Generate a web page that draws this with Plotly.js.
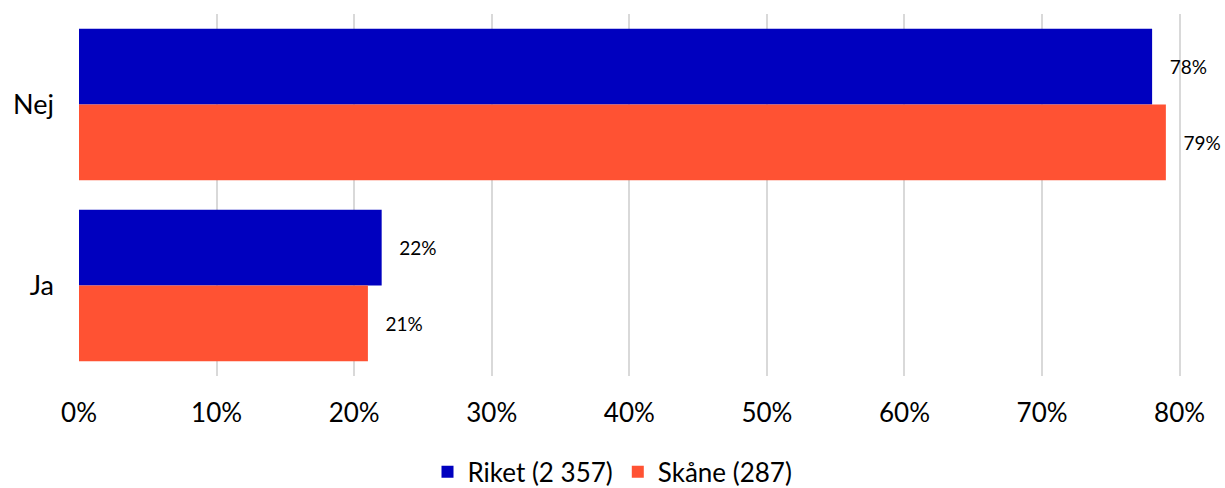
<!DOCTYPE html>
<html>
<head>
<meta charset="utf-8">
<script src="https://cdn.plot.ly/plotly-3.0.1.min.js"></script>
<style>html,body{margin:0;padding:0;background:#fff;}#chart{width:1225px;height:488px;}</style>
</head>
<body>
<div id="chart"></div>
<script>
const categories = ["Nej", "Ja"];
const seriesNames = ["Riket (2 357)", "Skåne (287)"];
const riket = [78, 22];
const skane = [79, 21];
const xTickVals = [0, 10, 20, 30, 40, 50, 60, 70, 80];
const xTickText = ["0%", "10%", "20%", "30%", "40%", "50%", "60%", "70%", "80%"];

const FONT = "Lato, 'Open Sans', sans-serif";
function mk(name, vals, color) {
  return {
    type: "bar", orientation: "h", name: name,
    x: vals, y: categories,
    marker: {color: color, line: {width: 0}},
    text: vals.map(v => v + "%"),
    texttemplate: "   %{text}",
    textposition: "outside",
    cliponaxis: false,
    textfont: {family: FONT, size: 19, color: "#000"},
    hoverinfo: "skip"
  };
}
const data = [mk(seriesNames[0], riket, "#0000BF"), mk(seriesNames[1], skane, "#FF5233")];
const layout = {
  width: 1225, height: 488,
  margin: {l: 79, r: 44, t: 14, b: 112, autoexpand: false},
  paper_bgcolor: "#fff", plot_bgcolor: "#fff",
  barmode: "group", bargap: 0.164, bargroupgap: 0,
  font: {family: FONT, color: "#000"},
  xaxis: {
    range: [0, 80.1], tickvals: xTickVals, ticktext: xTickText,
    showgrid: true, gridcolor: "#d9d9d9", gridwidth: 2,
    zeroline: false, showline: false, ticks: "",
    tickfont: {family: FONT, size: 26, color: "#000"},
    ticklabelstandoff: 19, fixedrange: true, automargin: false
  },
  yaxis: {
    autorange: "reversed", categoryorder: "array", categoryarray: categories,
    showgrid: false, zeroline: false, showline: false, ticks: "",
    tickfont: {family: FONT, size: 27, color: "#000"},
    ticklabelstandoff: 24, fixedrange: true, automargin: false
  },
  showlegend: true,
  legend: {
    orientation: "h", x: 0.5, xref: "container", xanchor: "center",
    y: 0.033, yref: "container", yanchor: "middle",
    font: {family: FONT, size: 26, color: "#000"},
    itemwidth: 30, tracegroupgap: 0, traceorder: "normal"
  }
};
Plotly.newPlot("chart", data, layout, {displayModeBar: false, staticPlot: true});
</script>
</body>
</html>
